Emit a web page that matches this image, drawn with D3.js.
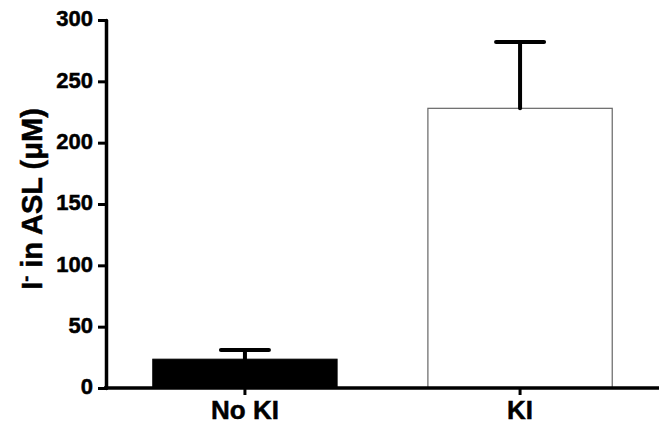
<!DOCTYPE html>
<html><head><meta charset="utf-8">
<script src="https://cdn.jsdelivr.net/npm/d3@7"></script>
<style>body{margin:0;background:#fff}svg{display:block}text{font-family:"Liberation Sans",Arial,sans-serif;font-weight:bold;fill:#000}</style>
</head><body>
<svg id="c" width="663" height="435"></svg>
<script>
const categories = ["No KI", "KI"];
const means = [23.5, 228];
const errUpper = [31, 282];
const fills = ["#000000", "#ffffff"];
const yTicks = [0, 50, 100, 150, 200, 250, 300];

const svg = d3.select("#c");
const x = d3.scaleBand().domain(categories).range([106, 659]).paddingInner(0.33).paddingOuter(0.17);
const y = d3.scaleLinear().domain([0, 300]).range([388, 20]);

// bars
svg.selectAll("rect.bar").data(categories).join("rect")
  .attr("x", d => x(d)).attr("width", x.bandwidth())
  .attr("y", (d,i) => y(means[i])).attr("height", (d,i) => y(0) - y(means[i]))
  .attr("fill", (d,i) => fills[i])
  .attr("stroke", (d,i) => i === 0 ? "#000" : "#666").attr("stroke-width", (d,i)=> i===0?1:1.2);

// error bars
const capHalf = 24;
const eg = svg.selectAll("g.err").data(categories).join("g");
eg.append("line")
  .attr("x1", d => x(d) + x.bandwidth()/2).attr("x2", d => x(d) + x.bandwidth()/2)
  .attr("y1", (d,i) => y(means[i])).attr("y2", (d,i) => y(errUpper[i]))
  .attr("stroke", "#000").attr("stroke-width", 4).attr("stroke-linecap", "round");
eg.append("line")
  .attr("x1", d => x(d) + x.bandwidth()/2 - capHalf).attr("x2", d => x(d) + x.bandwidth()/2 + capHalf)
  .attr("y1", (d,i) => y(errUpper[i])).attr("y2", (d,i) => y(errUpper[i]))
  .attr("stroke", "#000").attr("stroke-width", 4).attr("stroke-linecap", "round");

// y axis
const ya = svg.append("g").attr("transform", "translate(106,0)")
  .call(d3.axisLeft(y).tickValues(yTicks).tickSize(8).tickPadding(5).tickSizeOuter(0));
ya.select(".domain").attr("stroke-width", 3.5).attr("stroke-linecap", "round");
ya.selectAll(".tick line").attr("stroke-width", 3);
ya.selectAll(".tick text").attr("font-size", 22).attr("font-family", "Liberation Sans, Arial, sans-serif")
  .attr("font-weight", "bold").attr("stroke", "#000").attr("stroke-width", 0.5).attr("dy", "0.27em");

// x axis
const xa = svg.append("g").attr("transform", "translate(0,388)")
  .call(d3.axisBottom(x).tickSize(7).tickPadding(6).tickSizeOuter(0));
xa.select(".domain").attr("stroke-width", 3.5).attr("d", "M104,0H659");
xa.selectAll(".tick line").attr("stroke-width", 3);
xa.selectAll(".tick text").attr("font-size", 26).attr("font-family", "Liberation Sans, Arial, sans-serif")
  .attr("font-weight", "bold").attr("stroke", "#000").attr("stroke-width", 0.5).attr("dy", "0.71em");

// y title
const t = svg.append("text").attr("transform", "translate(42,199) rotate(-90)")
  .attr("text-anchor", "middle").attr("font-size", 29).attr("stroke", "#000").attr("stroke-width", 0.5);
t.append("tspan").text("I");
t.append("tspan").text("-").attr("baseline-shift", "super").attr("font-size", 18);
t.append("tspan").text(" in ASL (μM)");
</script>
</body></html>
